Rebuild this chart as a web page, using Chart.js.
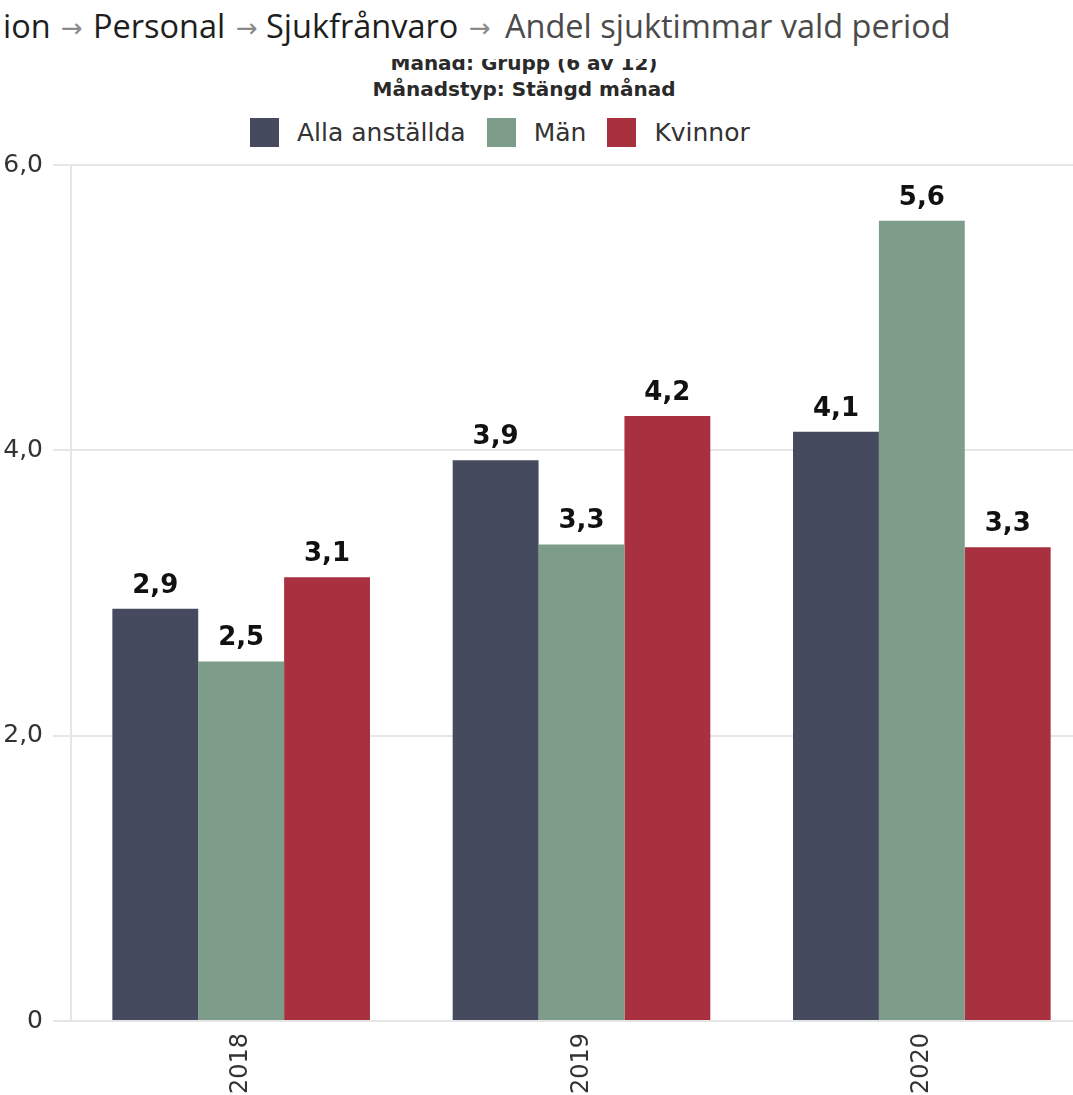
<!DOCTYPE html>
<html>
<head>
<meta charset="utf-8">
<script src="https://cdn.jsdelivr.net/npm/chart.js@4.4.1/dist/chart.umd.min.js"></script>
<style>
  html, body { margin: 0; padding: 0; background: #fff; width: 1073px; height: 1095px; overflow: hidden; position: relative; }
  #title { position: absolute; left: 0; top: 0; width: 1073px; height: 50px; }
  #title span { position: absolute; top: 4px; white-space: nowrap; font-family: "Open Sans", sans-serif; font-size: 32.5px; line-height: 44px; color: #1e1e1e; }
  #title span.arr { color: #8a8a8a; font-family: "DejaVu Sans", sans-serif; font-size: 26px; top: 6px; }
  #title span.last { color: #4a4a4a; }
  #subwrap { position: absolute; left: 0; width: 1048px; top: 59px; height: 45px; overflow: hidden; }
  #sub { position: absolute; left: 0; width: 100%; top: -9px; text-align: center; font-family: "DejaVu Sans", Verdana, sans-serif; font-weight: bold; font-size: 20px; line-height: 26px; color: #2a2a2a; }
  #legend { position: absolute; top: 117px; left: 250px; height: 31px; display: flex; align-items: center; white-space: nowrap; font-family: "DejaVu Sans", Verdana, sans-serif; font-size: 25px; color: #333; }
  #legend .item { display: flex; align-items: center; margin-right: 21px; }
  #legend .box { width: 29px; height: 29px; margin-right: 18px; }
  #wrap { position: absolute; left: -30px; top: 140px; width: 1130px; height: 961px; }
</style>
</head>
<body>
<div id="title"></div>
<div id="subwrap"><div id="sub"></div></div>
<div id="legend"></div>
<div id="wrap"><canvas id="c"></canvas></div>
<script>
const titleParts = ["ion", "Personal", "Sjukfrånvaro", "Andel sjuktimmar vald period"];
const subtitleLines = ["Månad: Grupp (6 av 12)", "Månadstyp: Stängd månad"];
const categories = ["2018", "2019", "2020"];
const seriesNames = ["Alla anställda", "Män", "Kvinnor"];
const seriesColors = ["#454A5E", "#7D9D8A", "#A9303F"];
const allaAnstallda = [2.89, 3.93, 4.13];
const man = [2.52, 3.34, 5.61];
const kvinnor = [3.11, 4.24, 3.32];
const yTicks = [0, 2, 4, 6];

// title layout (breadcrumb)
const partLeft = [3, 93, 266, 505];
const arrowLeft = [61, 236, 469];
const t = document.getElementById('title');
titleParts.forEach((p, i) => {
  if (i > 0) {
    const a = document.createElement('span'); a.className = 'arr'; a.textContent = '→';
    a.style.left = arrowLeft[i - 1] + 'px'; t.appendChild(a);
  }
  const s = document.createElement('span'); s.textContent = p;
  s.style.left = partLeft[i] + 'px';
  if (i === titleParts.length - 1) s.className = 'last';
  t.appendChild(s);
});
document.getElementById('sub').innerHTML = subtitleLines.map(l => '<div>' + l + '</div>').join('');
const lg = document.getElementById('legend');
seriesNames.forEach((n, i) => {
  const it = document.createElement('div'); it.className = 'item';
  const b = document.createElement('div'); b.className = 'box'; b.style.background = seriesColors[i];
  const tx = document.createElement('span'); tx.textContent = n;
  it.appendChild(b); it.appendChild(tx); lg.appendChild(it);
});

const fmt = v => v.toFixed(1).replace('.', ',');

const valueLabels = {
  id: 'valueLabels',
  afterDatasetsDraw(chart) {
    const ctx = chart.ctx;
    ctx.save();
    ctx.font = 'bold 26px "DejaVu Sans", Verdana, sans-serif';
    ctx.fillStyle = '#111';
    ctx.textAlign = 'center';
    ctx.textBaseline = 'alphabetic';
    chart.data.datasets.forEach((ds, di) => {
      chart.getDatasetMeta(di).data.forEach((bar, i) => {
        ctx.fillText(fmt(ds.data[i]), bar.x, bar.y - 16);
      });
    });
    ctx.restore();
  }
};

const seriesData = [allaAnstallda, man, kvinnor];
new Chart(document.getElementById('c'), {
  type: 'bar',
  data: {
    labels: categories,
    datasets: seriesNames.map((n, i) => ({
      label: n,
      data: seriesData[i],
      backgroundColor: seriesColors[i],
      borderWidth: 0,
      categoryPercentage: 0.757,
      barPercentage: 1.0
    }))
  },
  options: {
    responsive: true,
    maintainAspectRatio: false,
    animation: false,
    layout: { padding: { top: 23, right: 8, bottom: 0, left: 0 } },
    plugins: { legend: { display: false }, title: { display: false }, tooltip: { enabled: false } },
    scales: {
      x: {
        grid: { display: false, drawTicks: false },
        border: { display: true, color: '#e6e6e6', width: 1 },
        ticks: { maxRotation: 90, minRotation: 90, padding: 12, color: '#333', font: { family: '"DejaVu Sans", Verdana, sans-serif', size: 24 } },
        afterFit(s) { s.height = 80; }
      },
      y: {
        min: 0, max: 6,
        afterBuildTicks(s) { s.ticks = yTicks.map(v => ({ value: v })); },
        grid: { color: '#e6e6e6', lineWidth: 2, tickLength: 18, drawTicks: true },
        border: { display: true, color: '#e6e6e6', width: 2 },
        ticks: { padding: 10, color: '#333', font: { family: '"DejaVu Sans", Verdana, sans-serif', size: 25 },
          callback: v => v === 0 ? '0' : fmt(v) },
        afterFit(s) { s.width = 101; }
      }
    }
  },
  plugins: [valueLabels]
});
</script>
</body>
</html>
